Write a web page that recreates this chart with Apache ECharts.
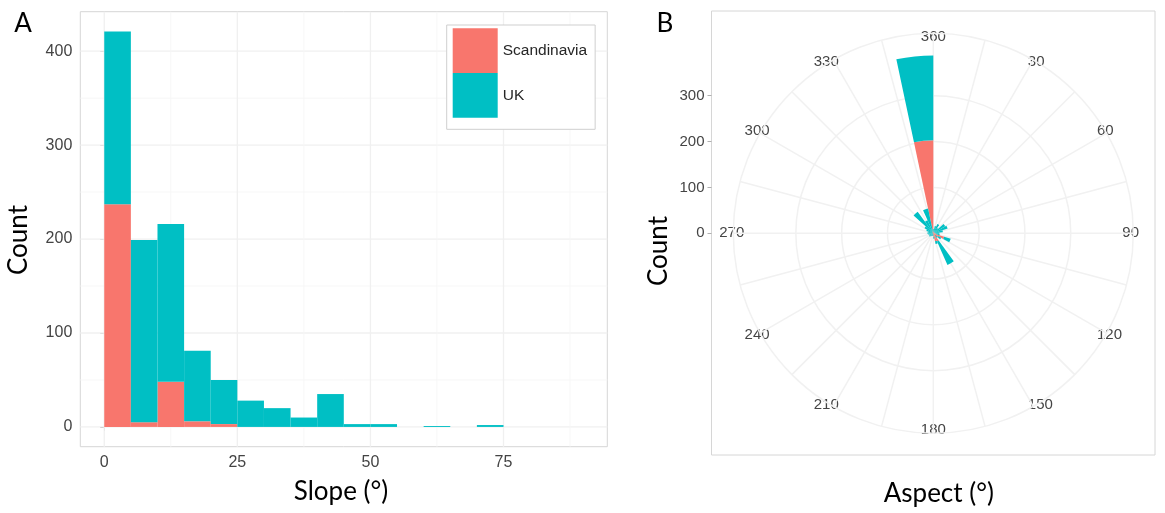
<!DOCTYPE html>
<html>
<head>
<meta charset="utf-8">
<script src="https://cdn.jsdelivr.net/npm/echarts@6/dist/echarts.min.js"></script>
<style>
  html, body { margin: 0; padding: 0; background: #ffffff; }
  #chart { width: 1165px; height: 513px; }
</style>
</head>
<body>
<div id="chart"></div>
<script>
// ---- Slope histogram (5° bins, 0–90°) ----
const slopeBinWidth = 5;
const slopeBinStarts = [0, 5, 10, 15, 20, 25, 30, 35, 40, 45, 50, 55, 60, 65, 70, 75, 80, 85];
const slopeScandinavia = [237, 5, 48, 6, 3, 0, 0, 0, 0, 0, 0, 0, 0, 0, 0, 0, 0, 0];
const slopeUK = [184, 194, 168, 75, 47, 28, 20, 10, 35, 3, 3, 0, 1, 0, 2, 0, 0, 0];
const slopeTicks = [0, 25, 50, 75];
const countTicksA = [0, 100, 200, 300, 400];

// ---- Aspect rose (12° bins, 0–360°) ----
const aspectBinWidth = 12;
const aspectBinStarts = [0, 12, 24, 36, 48, 60, 72, 84, 96, 108, 120, 132, 144, 156, 168,
                         180, 192, 204, 216, 228, 240, 252, 264, 276, 288, 300, 312, 324, 336, 348];
const aspectScandinavia = [3, 2, 2, 2, 3, 3, 3, 3, 6, 25, 12, 6, 20, 18, 8,
                           2, 1, 1, 1, 1, 1, 1, 1, 1, 2, 2, 3, 3, 5, 203];
const aspectUK = [6, 14, 20, 12, 27, 30, 18, 10, 8, 15, 8, 6, 56, 6, 4,
                  4, 5, 6, 8, 10, 8, 10, 12, 10, 14, 20, 55, 28, 50, 185];
const aspectTicks = [0, 30, 60, 90, 120, 150, 180, 210, 240, 270, 300, 330];
const aspectTickLabels = ['360', '30', '60', '90', '120', '150', '180', '210', '240', '270', '300', '330'];
const countTicksB = [0, 100, 200, 300];

const seriesNames = ['Scandinavia', 'UK'];
const RED = '#F8766D';
const TEAL = '#00BFC4';
const tickFont = 'Liberation Sans';
const titleFont = 'Lato';
const tickColor = '#444444';
const gridMajor = '#f0f0f0';
const gridMinor = '#f6f6f6';
const roseGrid = '#f1f1f1';
const borderColor = '#d6d6d6';

// ---- layout (pixels) ----
const gridA = { left: 80.3, top: 11.7, width: 527, height: 435 };
const panelB = { left: 711.5, top: 11, width: 443.5, height: 444 };
const roseCenter = [933.3, 233.2];
const roseOuter = 200;

// ---- derived scales ----
const slopeTotals = slopeScandinavia.map((v, i) => v + slopeUK[i]);
const countMaxA = Math.max(...slopeTotals);
const yMinA = -0.05 * countMaxA, yMaxA = 1.05 * countMaxA;
const slopeLo = slopeBinStarts[0];
const slopeHi = slopeBinStarts[slopeBinStarts.length - 1] + slopeBinWidth;
const xMinA = slopeLo - 0.05 * (slopeHi - slopeLo);
const xMaxA = slopeHi + 0.05 * (slopeHi - slopeLo);

const aspectTotals = aspectScandinavia.map((v, i) => v + aspectUK[i]);
const roseMax = Math.max(...aspectTotals);
const roseOuterValue = roseMax * 0.45 / 0.4;       // outer ring sits beyond the data range
const pxPerCountB = roseOuter / roseOuterValue;
const yMinB = -(panelB.top + panelB.height - roseCenter[1]) / pxPerCountB;
const yMaxB = (roseCenter[1] - panelB.top) / pxPerCountB;

// stacked histogram rectangles: [start, end, base, top]
const slopeScanBars = slopeBinStarts.map((x, i) => [x, x + slopeBinWidth, 0, slopeScandinavia[i]]);
const slopeUKBars = slopeBinStarts.map((x, i) => [x, x + slopeBinWidth, slopeScandinavia[i], slopeTotals[i]]);
const aspectScanBars = aspectBinStarts.map((a, i) => [a, a + aspectBinWidth, 0, aspectScandinavia[i]]);
const aspectUKBars = aspectBinStarts.map((a, i) => [a, a + aspectBinWidth, aspectScandinavia[i], aspectTotals[i]]);

// background grid lines for the histogram: [orientation (0 = horizontal), value, major]
function minorBetween(ticks, lo, hi) {
  const step = ticks[1] - ticks[0];
  const out = [];
  for (let t = ticks[0] - step / 2; t <= hi; t += step) if (t >= lo) out.push(t);
  return out;
}
const gridLinesA = []
  .concat(countTicksA.map(v => [0, v, 1]))
  .concat(minorBetween(countTicksA, yMinA, yMaxA).map(v => [0, v, 0]))
  .concat(slopeTicks.map(v => [1, v, 1]))
  .concat(minorBetween(slopeTicks, xMinA, xMaxA).map(v => [1, v, 0]));

function renderRect(params, api) {
  const y0 = api.value(2), y1 = api.value(3);
  if (!(y1 > y0)) return null;
  const p0 = api.coord([api.value(0), y0]);
  const p1 = api.coord([api.value(1), y1]);
  return {
    type: 'rect',
    shape: { x: p0[0], y: p1[1], width: p1[0] - p0[0], height: p0[1] - p1[1] },
    style: { fill: api.visual('color') }
  };
}

function renderGridLine(params, api) {
  const cs = params.coordSys;
  const horizontal = api.value(0) === 0;
  const v = api.value(1);
  const major = api.value(2) === 1;
  let shape;
  if (horizontal) {
    const y = api.coord([xMinA, v])[1];
    shape = { x1: cs.x, y1: y, x2: cs.x + cs.width, y2: y };
  } else {
    const x = api.coord([v, yMinA])[0];
    shape = { x1: x, y1: cs.y, x2: x, y2: cs.y + cs.height };
  }
  return {
    type: 'line',
    shape: shape,
    style: { stroke: major ? gridMajor : gridMinor, lineWidth: major ? 1.3 : 0.9 }
  };
}

function renderSector(params, api) {
  const a0 = api.value(0), a1 = api.value(1), r0 = api.value(2), r1 = api.value(3);
  if (!(r1 > r0)) return null;
  const c = api.coord([0, a0]);
  const pA = api.coord([r1, a0]);
  const pB = api.coord([r1, a1]);
  const pIn = api.coord([r0, a0]);
  const R = Math.hypot(pA[0] - c[0], pA[1] - c[1]);
  const R0 = Math.hypot(pIn[0] - c[0], pIn[1] - c[1]);
  let t0 = Math.atan2(pA[1] - c[1], pA[0] - c[0]);
  let t1 = Math.atan2(pB[1] - c[1], pB[0] - c[0]);
  if (t1 < t0) t1 += Math.PI * 2;
  return {
    type: 'sector',
    shape: { cx: c[0], cy: c[1], r0: R0, r: R, startAngle: t0, endAngle: t1, clockwise: true },
    style: { fill: api.visual('color') }
  };
}

// ring colours: only the rings inside the data range are drawn
const ringTicks = [];
for (let t = 0; t < roseOuterValue; t += 100) ringTicks.push(t);
ringTicks.push(roseOuterValue);
const ringColors = ringTicks.map(t => (t > 0 && t <= roseMax) ? roseGrid : 'rgba(0,0,0,0)');

const chart = echarts.init(document.getElementById('chart'));

const option = {
  backgroundColor: '#ffffff',
  animation: false,
  legend: {
    data: seriesNames,
    orient: 'vertical',
    left: 446.7,
    top: 25,
    icon: 'rect',
    itemWidth: 45,
    itemHeight: 44.7,
    itemGap: 0,
    padding: [3.3, 8, 11.6, 6],
    borderColor: '#cfcfcf',
    borderWidth: 1,
    backgroundColor: '#ffffff',
    selectedMode: false,
    textStyle: { fontFamily: tickFont, fontSize: 15.5, color: '#262626' }
  },
  grid: [
    { left: gridA.left, top: gridA.top, width: gridA.width, height: gridA.height,
      show: true, borderColor: borderColor, borderWidth: 1, backgroundColor: 'transparent' },
    { left: panelB.left, top: panelB.top, width: panelB.width, height: panelB.height,
      show: true, borderColor: borderColor, borderWidth: 1, backgroundColor: 'transparent' }
  ],
  xAxis: [
    {
      type: 'value', gridIndex: 0, min: xMinA, max: xMaxA,
      axisLine: { show: false },
      axisTick: { show: true, customValues: slopeTicks, length: 4, lineStyle: { color: '#b0b0b0' } },
      axisLabel: { customValues: slopeTicks, margin: 8, fontFamily: tickFont, fontSize: 16, color: tickColor },
      splitLine: { show: false }
    },
    { type: 'value', gridIndex: 1, min: 0, max: 1, show: false }
  ],
  yAxis: [
    {
      type: 'value', gridIndex: 0, min: yMinA, max: yMaxA,
      axisLine: { show: false },
      axisTick: { show: true, customValues: countTicksA, length: 4, lineStyle: { color: '#b0b0b0' } },
      axisLabel: { customValues: countTicksA, margin: 8, fontFamily: tickFont, fontSize: 16, color: tickColor },
      splitLine: { show: false }
    },
    {
      type: 'value', gridIndex: 1, min: yMinB, max: yMaxB,
      axisLine: { show: false },
      axisTick: { show: true, customValues: countTicksB, length: 4, lineStyle: { color: '#b0b0b0' } },
      axisLabel: { customValues: countTicksB, margin: 7, fontFamily: tickFont, fontSize: 15, color: tickColor },
      splitLine: { show: false }
    }
  ],
  polar: {
    center: roseCenter,
    radius: roseOuter
  },
  angleAxis: {
    type: 'value',
    min: 0,
    max: 360,
    interval: 15,
    startAngle: 90,
    clockwise: true,
    axisLine: { show: true, lineStyle: { color: roseGrid, width: 1.5 } },
    axisTick: { show: false },
    axisLabel: {
      margin: -11,
      fontFamily: tickFont,
      fontSize: 15,
      color: tickColor,
      formatter: function (v) {
        const idx = aspectTicks.indexOf(Math.round(v));
        return idx >= 0 ? aspectTickLabels[idx] : '';
      }
    },
    splitLine: { show: true, lineStyle: { color: roseGrid, width: 1.5 } }
  },
  radiusAxis: {
    type: 'value',
    min: 0,
    max: roseOuterValue,
    interval: 100,
    axisLine: { show: false },
    axisTick: { show: false },
    axisLabel: { show: false },
    splitLine: { show: true, lineStyle: { color: ringColors, width: 1.5 } }
  },
  series: [
    {
      name: 'histogram grid', type: 'custom', xAxisIndex: 0, yAxisIndex: 0, z: 1, silent: true,
      renderItem: renderGridLine, data: gridLinesA
    },
    {
      name: seriesNames[0], type: 'custom', xAxisIndex: 0, yAxisIndex: 0, z: 3,
      itemStyle: { color: RED }, encode: { x: [0, 1], y: [2, 3] },
      renderItem: renderRect, data: slopeScanBars
    },
    {
      name: seriesNames[1], type: 'custom', xAxisIndex: 0, yAxisIndex: 0, z: 3,
      itemStyle: { color: TEAL }, encode: { x: [0, 1], y: [2, 3] },
      renderItem: renderRect, data: slopeUKBars
    },
    {
      name: seriesNames[0], type: 'custom', coordinateSystem: 'polar', z: 3,
      itemStyle: { color: RED }, encode: { angle: [0, 1], radius: [2, 3] },
      renderItem: renderSector, data: aspectScanBars
    },
    {
      name: seriesNames[1], type: 'custom', coordinateSystem: 'polar', z: 3,
      itemStyle: { color: TEAL }, encode: { angle: [0, 1], radius: [2, 3] },
      renderItem: renderSector, data: aspectUKBars
    }
  ],
  graphic: [
    { type: 'text', x: 23, y: 24, style: { text: 'A', fontFamily: titleFont, fontSize: 26, fill: '#000', align: 'center', verticalAlign: 'middle' } },
    { type: 'text', x: 665, y: 24, style: { text: 'B', fontFamily: titleFont, fontSize: 26, fill: '#000', align: 'center', verticalAlign: 'middle' } },
    { type: 'text', x: 19, y: 240, rotation: Math.PI / 2, style: { text: 'Count', fontFamily: titleFont, fontSize: 26, fill: '#000', align: 'center', verticalAlign: 'middle' } },
    { type: 'text', x: 659, y: 251, rotation: Math.PI / 2, style: { text: 'Count', fontFamily: titleFont, fontSize: 26, fill: '#000', align: 'center', verticalAlign: 'middle' } },
    { type: 'text', x: 341, y: 492, style: { text: 'Slope (°)', fontFamily: titleFont, fontSize: 26, fill: '#000', align: 'center', verticalAlign: 'middle' } },
    { type: 'text', x: 938.8, y: 494, style: { text: 'Aspect (°)', fontFamily: titleFont, fontSize: 26, fill: '#000', align: 'center', verticalAlign: 'middle' } }
  ]
};

chart.setOption(option);
</script>
</body>
</html>
